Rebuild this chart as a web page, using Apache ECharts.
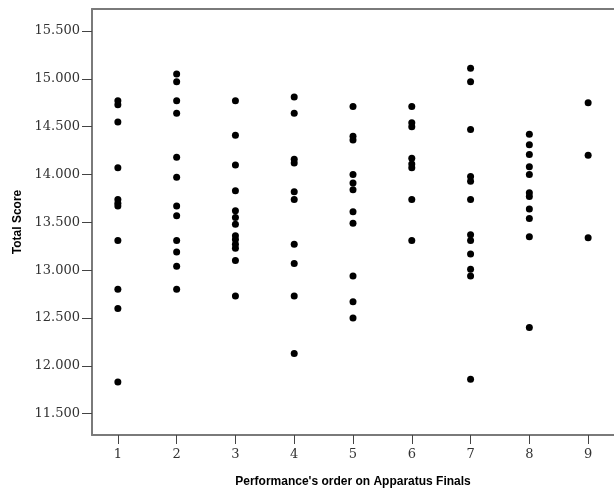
<!DOCTYPE html>
<html>
<head>
<meta charset="utf-8">
<script src="https://cdn.jsdelivr.net/npm/echarts@6/dist/echarts.min.js"></script>
<style>
  html, body { margin: 0; padding: 0; background: #fff; }
  #chart { width: 614px; height: 493px; }
</style>
</head>
<body>
<div id="chart"></div>
<script>
// performance order (x) -> total scores (y)
const order1 = [14.77, 14.73, 14.55, 14.07, 13.74, 13.70, 13.67, 13.31, 12.80, 12.60, 11.83];
const order2 = [15.05, 14.97, 14.77, 14.64, 14.18, 13.97, 13.67, 13.57, 13.31, 13.19, 13.04, 12.80];
const order3 = [14.77, 14.41, 14.10, 13.83, 13.62, 13.55, 13.48, 13.36, 13.32, 13.27, 13.23, 13.10, 12.73];
const order4 = [14.81, 14.64, 14.16, 14.12, 13.82, 13.74, 13.27, 13.07, 12.73, 12.13];
const order5 = [14.71, 14.40, 14.36, 14.00, 13.91, 13.84, 13.61, 13.49, 12.94, 12.67, 12.50];
const order6 = [14.71, 14.54, 14.50, 14.17, 14.11, 14.07, 13.74, 13.31];
const order7 = [15.11, 14.97, 14.47, 13.98, 13.93, 13.74, 13.37, 13.31, 13.17, 13.01, 12.94, 11.86];
const order8 = [14.42, 14.31, 14.21, 14.08, 14.00, 13.81, 13.77, 13.64, 13.54, 13.35, 12.40];
const order9 = [14.75, 14.20, 13.34];

const xTicks = [1, 2, 3, 4, 5, 6, 7, 8, 9];
const yTicks = [11.5, 12.0, 12.5, 13.0, 13.5, 14.0, 14.5, 15.0, 15.5];

const groups = [order1, order2, order3, order4, order5, order6, order7, order8, order9];
const points = [];
groups.forEach(function (scores, i) {
  scores.forEach(function (s) {
    points.push([xTicks[i], s]);
  });
});

const chart = echarts.init(document.getElementById('chart'));
const frame = '#7a7a7a';
const option = {
  backgroundColor: '#fff',
  animation: false,
  grid: {
    left: 92,
    right: 0,
    top: 9,
    bottom: 57
  },
  xAxis: [{
    type: 'value',
    min: 0.56,
    max: 9.44,
    name: "Performance's order on Apparatus Finals",
    nameLocation: 'middle',
    nameGap: 41,
    nameTextStyle: {
      fontFamily: 'Liberation Sans',
      fontWeight: 'bold',
      fontSize: 12,
      color: '#000'
    },
    splitLine: { show: false },
    axisLine: { lineStyle: { color: frame, width: 2 } },
    axisTick: {
      customValues: xTicks,
      length: 9,
      lineStyle: { color: '#444', width: 1 }
    },
    axisLabel: {
      customValues: xTicks,
      margin: 13,
      fontFamily: 'DejaVu Serif',
      fontSize: 13,
      color: '#333'
    }
  }, {
    // top frame line only
    type: 'value',
    position: 'top',
    min: 0.56,
    max: 9.44,
    splitLine: { show: false },
    axisLine: { show: true, lineStyle: { color: frame, width: 2 } },
    axisTick: { show: false },
    axisLabel: { show: false }
  }],
  yAxis: {
    type: 'value',
    min: 11.277,
    max: 15.73,
    name: 'Total Score',
    nameLocation: 'middle',
    nameGap: 62,
    nameTextStyle: {
      fontFamily: 'Liberation Sans',
      fontWeight: 'bold',
      fontSize: 12,
      color: '#000'
    },
    splitLine: { show: false },
    axisLine: { lineStyle: { color: frame, width: 2 } },
    axisTick: {
      customValues: yTicks,
      length: 10,
      lineStyle: { color: '#444', width: 1 }
    },
    axisLabel: {
      customValues: yTicks,
      margin: 12,
      fontFamily: 'DejaVu Serif',
      fontSize: 13,
      color: '#333',
      formatter: function (v) { return v.toFixed(3); }
    }
  },
  series: [{
    type: 'scatter',
    data: points,
    symbol: 'circle',
    symbolSize: 7,
    itemStyle: { color: '#000', opacity: 1 },
    silent: true
  }]
};
chart.setOption(option);
</script>
</body>
</html>
